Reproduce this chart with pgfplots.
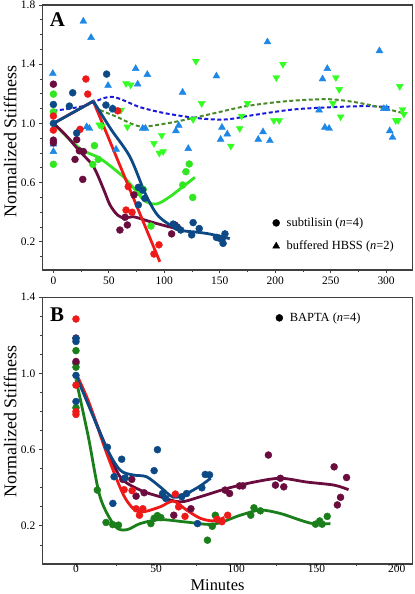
\documentclass[border=0pt]{standalone}
\usepackage{pgfplots}
\pgfplotsset{compat=1.18}
\usepackage{fontspec}
\setmainfont{Liberation Serif}
\definecolor{cred}{HTML}{EE1A1A}
\definecolor{cmaroon}{HTML}{6A0C3E}
\definecolor{clime}{HTML}{33E622}
\definecolor{cnavy}{HTML}{0D4A85}
\definecolor{ctriblue}{HTML}{1E88E6}
\definecolor{ctrigreen}{HTML}{33FF22}
\definecolor{cdashblue}{HTML}{1A1AD9}
\definecolor{cdashgreen}{HTML}{4A8A2A}
\definecolor{cdkgreen}{HTML}{1A7F1A}

% ---------- Panel A data ----------
\pgfplotstableread{
x y
0 1.05
0 0.955
24 0.96
29.3 1.30
31 1.198
58 1.085
67.5 0.573
65.5 0.415
70.9 0.40
90.7 0.118
95.2 0.18
}\AredPts
\pgfplotstableread{
x y
0 1.128
0 1.0
14.4 1.117
17.4 1.207
21 0.935
48 1.333
47.4 1.124
53.4 1.10
76.6 0.568
80.5 0.55
82.5 0.494
76.6 0.45
108 0.32
111 0.30
114.8 0.28
124.7 0.247
126 0.33
131.5 0.29
147 0.23
149.5 0.225
153 0.19
154.7 0.254
152 0.217
}\AnavyPts
\pgfplotstableread{
x y
0 1.265
0 0.887
0 0.869
19.5 0.757
21 0.89
23.4 0.815
27 0.81
26.5 0.622
60 0.28
64.6 0.366
66.7 0.314
72.7 0.517
106.6 0.254
109.6 0.314
111.7 0.30
}\AmaroonPts
\pgfplotstableread{
x y
0 1.198
0 1.078
0 0.724
35.5 0.723
37 0.85
40.5 0.757
78 0.54
81 0.555
88 0.307
116.6 0.584
119.5 0.674
122.5 0.726
125.6 0.50
}\AlimePts
\pgfplotstableread{
x y
-0.5 1.337
0 0.86
0 0.81
27 1.69
34 1.58
30 0.977
32.5 0.966
49.3 1.256
53.5 1.10
54.7 1.09
56.5 0.825
74.2 1.37
76 1.265
80.5 0.966
83 0.966
84.7 1.33
110.5 0.95
113 0.987
116.5 1.21
121.6 0.83
147 1.32
150.8 0.892
152 0.973
156.8 0.928
184.7 0.892
189 0.943
193 1.55
195.2 0.883
239.6 1.09
242.7 1.30
244.8 0.973
247 1.37
248.6 0.966
294 1.49
298 1.10
300.4 1.10
303.3 0.95
305.8 0.905
}\AtriBlue
\pgfplotstableread{
x y
41.4 0.99
43.6 0.98
61 1.09
65.5 1.27
69.7 1.26
66.7 0.977
90.7 0.865
97.7 0.92
95.5 0.80
99 0.81
126 1.027
128.5 1.42
133.7 1.135
160 0.847
168 0.966
169.7 1.05
175 1.135
198.8 1.02
201 1.31
203.6 1.02
207 1.40
252 1.135
254.7 1.31
257.7 1.23
259 1.045
308.7 1.02
310.8 1.02
312.3 1.25
314.8 1.094
316 1.063
}\AtriGreen

% ---------- Panel B data ----------
\pgfplotstableread{
x y
0 1.286
0 0.939
0 0.80
0 0.785
30 0.39
35 0.385
37.5 0.29
39.6 0.256
41.7 0.29
62 0.367
64 0.30
68 0.25
88 0.235
91 0.222
94.6 0.256
}\BredPts
\pgfplotstableread{
x y
0 1.184
0 1.168
0 0.99
0 0.853
19.6 0.613
28.5 0.55
23.75 0.458
30.6 0.452
23 0.318
50.8 0.60
48.75 0.49
54 0.37
56 0.344
66 0.353
69 0.37
78.5 0.40
80.6 0.47
83.3 0.468
75.8 0.212
}\BnavyPts
\pgfplotstableread{
x y
0 1.186
0 1.063
29.2 0.444
34.8 0.444
37.5 0.356
42.5 0.374
61 0.256
71.7 0.29
93 0.388
95.8 0.37
102 0.41
104 0.41
120 0.572
124.4 0.414
127.5 0.45
129.6 0.405
161 0.51
163 0.31
165 0.35
168.75 0.454
}\BmaroonPts
\pgfplotstableread{
x y
0 1.12
0 1.054
0 1.033
0 0.82
13.3 0.388
18.75 0.218
22.9 0.207
26.5 0.204
46.7 0.212
48.75 0.24
50.8 0.254
52.9 0.244
82 0.125
85 0.198
86.9 0.256
109 0.256
111 0.295
115 0.279
149.4 0.209
152 0.226
153.5 0.209
156.7 0.25
}\BgreenPts

\pgfplotsset{
  myaxis/.style={
    scale only axis, width=370.4bp, anchor=south west,
    axis line style={line width=1.1bp, black!75},
    tick align=outside, tick pos=left,
    major tick length=3.5bp, minor tick length=2bp,
    every tick/.style={black!75, line width=0.8bp},
    yticklabel style={/pgf/number format/.cd, fixed, fixed zerofill, precision=1, /tikz/.cd},
    xticklabel style={/pgf/number format/.cd, fixed, precision=0, /tikz/.cd},
    /pgf/number format/assume math mode=true,
    tick label style={font=\fontsize{11.5}{12}\selectfont},
    ylabel={Normalized Stiffness},
    legend style={draw=none, fill=none, inner sep=0pt, row sep=9bp,
      font=\fontsize{12.5}{14}\selectfont, cells={anchor=west},
      /tikz/every odd column/.append style={column sep=5bp}},
    legend image code/.code={\draw[#1] plot coordinates {(4bp,0bp)};},
  },
  circ/.style={only marks, mark=*, mark size=3.5bp, forget plot},
  fitline/.style={line width=2.8bp, no marks, forget plot},
}

\begin{document}
\begin{tikzpicture}[x=1bp,y=1bp]
\useasboundingbox (0,0) rectangle (414,594);
% ================= Panel A =================
\begin{axis}[myaxis, at={(42.3bp,324bp)}, height=265bp,
  xmin=-10, xmax=324, ymin=0.01, ymax=1.8,
  xtick={0,50,100,150,200,250,300},
  minor xtick={25,75,125,175,225,275},
  ytick={0.2,0.6,1.0,1.4,1.8},
  minor ytick={0.1,0.3,0.4,0.5,0.7,0.8,0.9,1.1,1.2,1.3,1.5,1.6,1.7},
  ylabel style={at={(axis description cs:-0.0697,0.485)}, anchor=base, rotate=0, font=\fontsize{18}{20}\selectfont},
  legend style={at={(0.6215,0.205)}, anchor=north west},
]
\addplot[only marks, mark=triangle*, mark size=4bp, color=ctriblue, forget plot] table {\AtriBlue};
\addplot[only marks, mark=triangle*, mark size=4bp, color=ctrigreen, mark options={rotate=180}, forget plot] table {\AtriGreen};
\addplot[cdashblue, line width=2bp, dash pattern=on 4bp off 2.5bp, smooth, no marks, forget plot] coordinates {
(0,1.085) (27,1.117) (52,1.18) (78,1.11) (102,1.067) (132,1.034) (156,1.027) (180,1.056) (216,1.094) (252,1.11) (282,1.117) (303,1.11)};
\addplot[cdashgreen, line width=2bp, dash pattern=on 4bp off 2.5bp, smooth, no marks, forget plot] coordinates {
(42,1.09) (57,1.045) (78,0.98) (102,1.0) (120,1.027) (144,1.067) (174,1.117) (210,1.15) (246,1.164) (270,1.146) (294,1.11) (315,1.07)};
\addplot[circ, color=clime] table {\AlimePts};
\addplot[circ, color=cmaroon] table {\AmaroonPts};
\addplot[circ, color=cred] table {\AredPts};
\addplot[circ, color=cnavy] table {\AnavyPts};
\addplot[fitline, color=clime, smooth] coordinates {
(0,1.0) (24,0.83) (42,0.764) (63,0.64) (75,0.54) (82.6,0.475) (93,0.456) (105,0.505) (127.6,0.636)};
\addplot[fitline, color=cmaroon, smooth] coordinates {
(0,1.0) (10,0.93) (24,0.81) (36,0.71) (45,0.56) (51,0.45) (58,0.38) (64.6,0.36) (72,0.37) (87,0.337) (100,0.31) (111,0.29)};
\addplot[fitline, color=cred] coordinates {(0,1.0) (36,1.15) (96,0.065)};
\addplot[fitline, color=cnavy] coordinates {(0,1.0) (36,1.15)};
\addplot[fitline, color=cnavy, smooth] coordinates {
(36,1.15) (52,0.96) (69,0.775) (82.6,0.53) (92,0.40) (100,0.34) (114,0.28) (130,0.265) (141,0.253) (159,0.222)};
\addlegendimage{only marks, mark=*, mark size=3.5bp, black}
\addlegendentry{subtilisin (\textit{n}=4)}
\addlegendimage{only marks, mark=triangle*, mark size=4bp, black}
\addlegendentry{buffered HBSS (\textit{n}=2)}
\node[font=\bfseries\fontsize{21}{21}\selectfont] at (rel axis cs:0.041,0.943) {A};
\end{axis}
% ================= Panel B =================
\begin{axis}[myaxis, at={(42.3bp,30bp)}, height=266.7bp,
  xmin=-21, xmax=210, ymin=0, ymax=1.4,
  xtick={0,50,100,150,200},
  minor xtick={25,75,125,175},
  ytick={0.2,0.6,1.0,1.4},
  minor ytick={0.1,0.3,0.4,0.5,0.7,0.8,0.9,1.1,1.2,1.3},
  xticklabel style={/tikz/yshift=4bp, /tikz/inner sep=1.5bp},
  ylabel style={at={(axis description cs:-0.0697,0.5336)}, anchor=base, rotate=0, font=\fontsize{18}{20}\selectfont},
  xlabel={Minutes},
  xlabel style={at={(axis description cs:0.473,-0.0975)}, anchor=base, inner sep=0pt, outer sep=0pt, font=\fontsize{16.5}{18}\selectfont},
  legend style={at={(0.63,0.95)}, anchor=north west},
]
\addplot[circ, color=cdkgreen] table {\BgreenPts};
\addplot[circ, color=cmaroon] table {\BmaroonPts};
\addplot[circ, color=cred] table {\BredPts};
\addplot[circ, color=cnavy] table {\BnavyPts};
\addplot[fitline, color=cmaroon, smooth] coordinates {
(0,1.0) (8,0.84) (17,0.65) (27.5,0.458) (40,0.388) (52.5,0.353) (65,0.326) (77.5,0.353) (94,0.396) (111,0.43) (127.5,0.45) (144,0.43) (161,0.414) (170,0.39)};
\addplot[fitline, color=cred, smooth] coordinates {
(0,1.0) (8,0.85) (19.2,0.58) (29.2,0.37) (35.8,0.29) (42,0.274) (52.5,0.30) (60.8,0.33) (69,0.283) (77.5,0.24) (85.8,0.226) (92.5,0.244)};
\addplot[fitline, color=cnavy, smooth] coordinates {
(0,0.99) (8,0.83) (19.2,0.607) (27.5,0.493) (35.8,0.467) (44,0.458) (52.5,0.405) (60.8,0.35) (69,0.37) (77.5,0.41) (84,0.45)};
\addplot[fitline, color=cdkgreen, smooth] coordinates {
(0,0.97) (7.7,0.668) (15,0.353) (24.4,0.198) (31.7,0.18) (40,0.212) (52.5,0.233) (69,0.22) (85.8,0.209) (102.5,0.256) (115,0.283) (127.5,0.265) (140,0.23) (148,0.212) (158.7,0.212)};
\addlegendimage{only marks, mark=*, mark size=3.5bp, black}
\addlegendentry{BAPTA (\textit{n}=4)}
\node[font=\bfseries\fontsize{21}{21}\selectfont] at (rel axis cs:0.04,0.934) {B};
\end{axis}
\end{tikzpicture}
\end{document}
